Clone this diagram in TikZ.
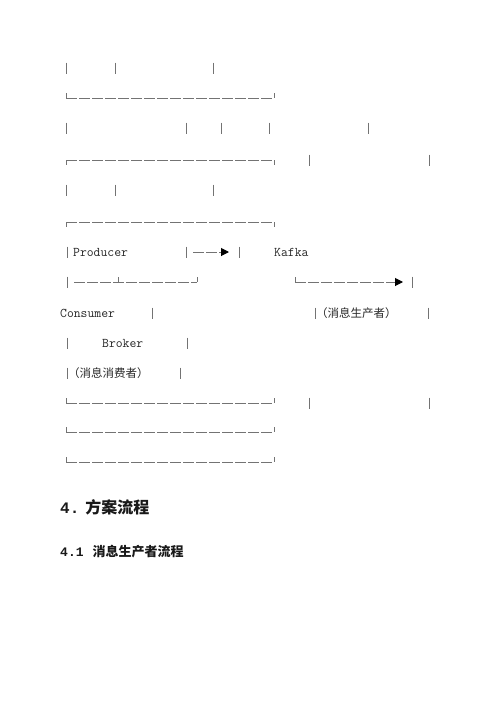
\documentclass[tikz,border=0pt]{standalone}
\usepackage{fontspec}
\newfontfamily\cjk{Noto Sans CJK SC}
\newfontfamily\headnum{Liberation Mono}
\usetikzlibrary{arrows.meta}

\begin{document}
\begin{tikzpicture}[x=1pt,y=-1pt,
 bar/.style={draw=black!55,line width=1pt},
 rule/.style={draw=black!55,line width=1pt,dash pattern=on 11pt off 2pt},
 word/.style={anchor=west,inner sep=0pt,text=black!85,font=\ttfamily\fontsize{13.3}{14}\selectfont},
 note/.style={anchor=west,inner sep=0pt,text=black!85,font=\cjk\fontsize{11.5}{12}\selectfont},
 head/.style={anchor=west,inner sep=0pt,text=black!90},
 >={Triangle[length=8pt,width=8pt,fill=black,color=black]}]
 \useasboundingbox (0,0) rectangle (500,707);

 % single bars
 \foreach \x/\y in {66/68,115/68,213/68,
   66/128,186/128,221/128,269/128,368/128,
   309/160,429/160,
   66/190,115/190,213/190,
   67/252,186/252,239/252,
   67/282,412/282,
   152/313,315/313,428/313,
   67/343,187/343,
   67/373,180/373,
   309/403,429/403}
  \draw[bar] (\x,\y-5.5) -- (\x,\y+5.5);

 % bottom rules
 \foreach \y in {98,403,432,462} {
  \draw[bar] (66,\y-5) -- (66,\y);
  \draw[rule] (66,\y) -- (274,\y);
  \draw[bar] (274,\y-5) -- (274,\y);
 }
 % top rules
 \foreach \y in {160,222} {
  \draw[bar] (66,\y) -- (66,\y+5);
  \draw[rule] (66,\y) -- (274,\y);
  \draw[bar] (274,\y) -- (274,\y+5);
 }

 \node[word] (producer) at (73,252) {Producer};
 \node[word] (kafka) at (274,252) {Kafka};
 \node[word] (consumer) at (60,313) {Consumer};
 \node[word] (broker) at (102,343) {Broker};
 \node[note] (prodnote) at (316,313) {（消息生产者）};
 \node[note] (consnote) at (68,373) {（消息消费者）};

 \coordinate (pa) at (193,252);
 \coordinate (pb) at (229,252);
 \draw[rule,->] (pa) -- (pb);

 \coordinate (ca) at (74,282);
 \coordinate (cj) at (118,282);
 \coordinate (cb) at (197,282);
 \draw[rule] (ca) -- (cb);
 \draw[bar] (cj) -- ++(0,-5);
 \draw[bar] (cb) -- ++(0,-5);

 \coordinate (ka) at (295,282);
 \coordinate (kb) at (403,282);
 \draw[bar] (ka) -- ++(0,-5);
 \draw[rule,->] (ka) -- (kb);

 \node[head] (sec4) at (60,507)
  {\fontsize{16}{18}\selectfont\headnum\bfseries 4.\hspace{6pt}\cjk 方案流程};
 \node[head] (sec41) at (60,552)
  {\fontsize{13}{15}\selectfont\headnum\bfseries 4.1\hspace{9pt}\cjk 消息生产者流程};
\end{tikzpicture}
\end{document}
